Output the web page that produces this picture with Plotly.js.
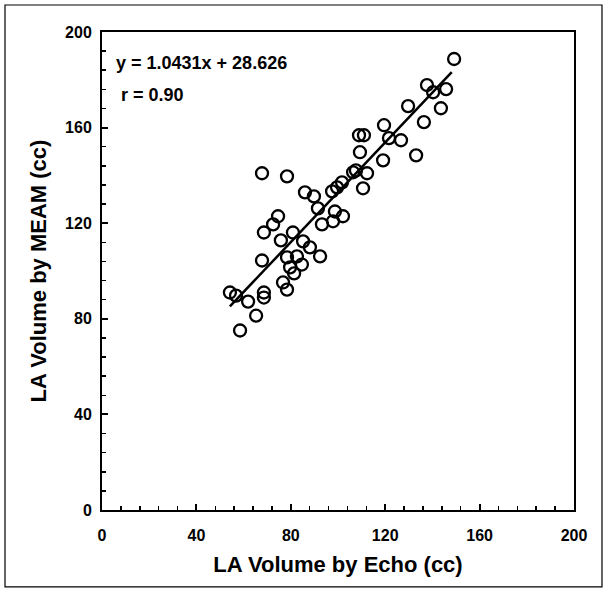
<!DOCTYPE html>
<html>
<head>
<meta charset="utf-8">
<script src="https://cdn.plot.ly/plotly-3.0.1.min.js"></script>
<style>html,body{margin:0;padding:0;background:#fff;}#chart{width:605px;height:592px;}</style>
</head>
<body>
<div id="chart"></div>
<script>
// LA volume by Echo (x) vs by MEAM (y), in cc
const echoVol = [149.2,137.7,140.3,145.8,143.6,129.7,136.4,119.5,121.6,126.7,
  108.9,111.0,109.3,119.1,133.1,106.4,107.6,112.3,110.6,97.5,99.6,101.7,
  86.0,89.8,91.5,93.2,98.7,97.9,102.1,67.8,78.4,74.6,72.5,68.6,80.9,75.8,
  85.2,88.1,92.4,67.8,78.4,82.6,84.7,79.7,81.4,76.7,78.4,54.2,56.8,61.9,
  68.6,68.6,65.3,58.5];
const meamVol = [188.7,177.8,174.8,176.1,168.1,169.0,162.3,161.0,155.6,154.7,
  156.8,156.8,149.7,146.3,148.4,141.3,142.1,140.9,134.6,133.3,135.0,137.1,
  132.9,131.2,126.2,119.5,124.9,120.8,122.9,140.9,139.6,122.9,119.5,116.1,116.1,112.8,
  112.4,109.9,106.1,104.4,105.7,106.1,102.7,101.5,99.0,95.2,92.2,91.0,89.7,87.2,
  91.0,88.9,81.3,75.1];
const fitSlope = 1.0431;
const fitIntercept = 28.626;
const rValue = "0.90";
const xTicks = [0,40,80,120,160,200];
const yTicks = [0,40,80,120,160,200];

const xMin = Math.min(...echoVol), xMax = Math.max(...echoVol) - 1;
const fitX = [xMin, xMax];
const fitY = fitX.map(v => fitSlope * v + fitIntercept);

const font = "Liberation Sans, Arial, sans-serif";

const traces = [
  {x: fitX, y: fitY, mode: 'lines', type: 'scatter',
   line: {color: '#000', width: 2.5}, hoverinfo: 'skip'},
  {x: echoVol, y: meamVol, mode: 'markers', type: 'scatter',
   marker: {symbol: 'circle-open', size: 12, color: '#000', line: {width: 2.3, color: '#000'}}}
];

const axisCommon = {
  range: [0, 200], tickmode: 'array', showgrid: false, zeroline: false,
  showline: true, linecolor: '#000', linewidth: 2, mirror: true,
  ticks: 'inside', ticklen: 6, tickwidth: 2, tickcolor: '#000',
  minor: {dtick: 8, ticks: 'inside', ticklen: 4, tickwidth: 1.5, tickcolor: '#000', showgrid: false},
  tickfont: {family: font, size: 16, color: '#000', weight: 'bold'},
  fixedrange: true
};

const layout = {
  width: 605, height: 592,
  margin: {l: 102, r: 31, t: 32, b: 82},
  paper_bgcolor: '#fff', plot_bgcolor: '#fff',
  showlegend: false,
  xaxis: Object.assign({}, axisCommon, {
    tickvals: xTicks, ticktext: xTicks.map(String), ticklabelstandoff: 10,
    title: {text: 'LA Volume by Echo (cc)', standoff: 13,
            font: {family: font, size: 22, color: '#000', weight: 'bold'}}
  }),
  yaxis: Object.assign({}, axisCommon, {
    tickvals: yTicks, ticktext: yTicks.map(String), ticklabelstandoff: 5,
    title: {text: 'LA Volume by MEAM (cc)', standoff: 12,
            font: {family: font, size: 22, color: '#000', weight: 'bold'}}
  }),
  annotations: [
    {xref: 'paper', yref: 'paper', x: 0.025, y: 0.935, xanchor: 'left', yanchor: 'middle',
     text: 'y = 1.0431x + 28.626', showarrow: false,
     font: {family: font, size: 18, color: '#000', weight: 'bold'}},
    {xref: 'paper', yref: 'paper', x: 0.037, y: 0.868, xanchor: 'left', yanchor: 'middle',
     text: 'r = ' + rValue, showarrow: false,
     font: {family: font, size: 18, color: '#000', weight: 'bold'}}
  ],
  shapes: [
    {type: 'rect', xref: 'paper', yref: 'paper',
     x0: -0.2055, x1: 1.0593, y0: -0.161, y1: 1.0565,
     line: {color: '#000', width: 1.2}, fillcolor: 'rgba(0,0,0,0)'}
  ]
};

Plotly.newPlot('chart', traces, layout, {displayModeBar: false, staticPlot: true});
</script>
</body>
</html>
